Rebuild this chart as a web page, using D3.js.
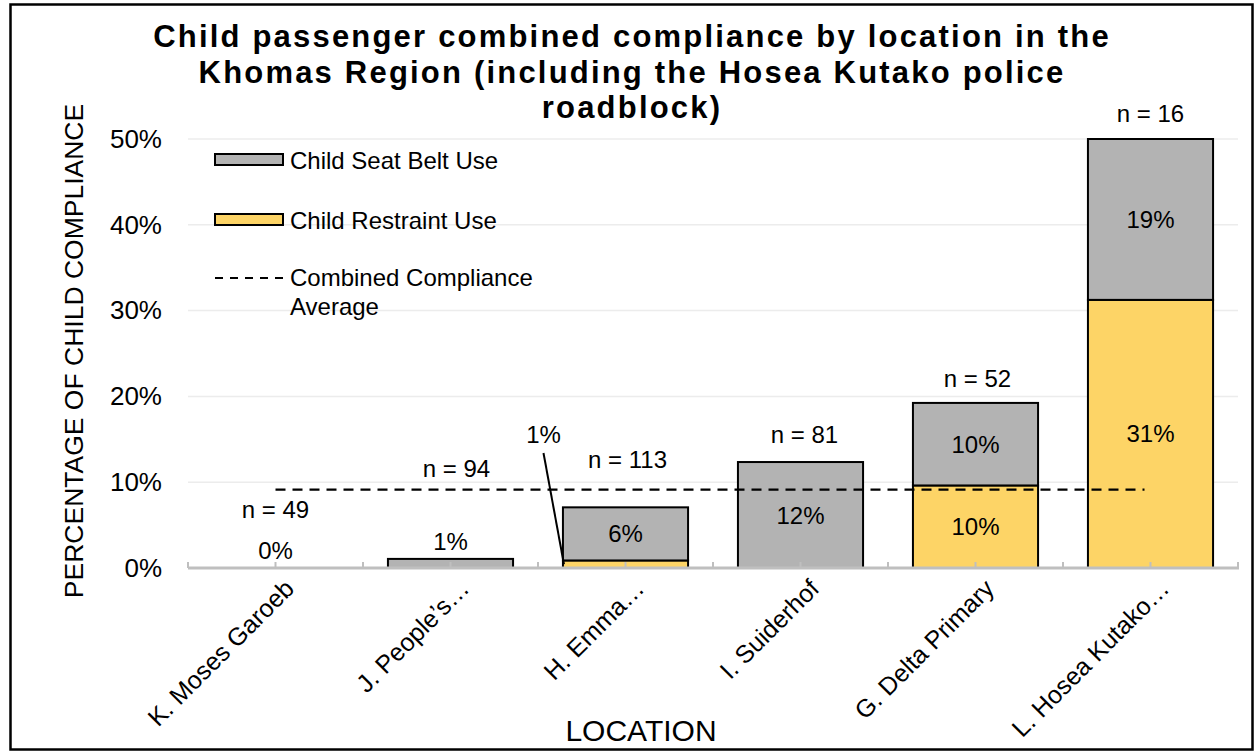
<!DOCTYPE html>
<html>
<head>
<meta charset="utf-8">
<script src="https://cdn.jsdelivr.net/npm/d3@7"></script>
<style>
  html, body { margin: 0; padding: 0; background: #fff; }
  svg { display: block; font-family: "Liberation Sans", Arial, sans-serif; }
</style>
</head>
<body>
<svg id="chart" width="1257" height="752"></svg>
<script>
// Locations surveyed, in plotting order
const categories = ["K. Moses Garoeb", "J. People\u2019s\u2026", "H. Emma\u2026", "I. Suiderhof", "G. Delta Primary", "L. Hosea Kutako\u2026"];
// Number of child passengers observed at each location
const sampleSize = [49, 94, 113, 81, 52, 16];
// Share of children in a child restraint (%)
const restraintUse = [0, 0, 0.88, 0, 9.62, 31.25];
// Share of children wearing a seat belt (%)
const seatBeltUse = [0, 1.06, 6.19, 12.35, 9.62, 18.75];
// Average combined compliance across all locations (%)
const combinedAverage = 9.14;
const yTicks = [0, 10, 20, 30, 40, 50];

const titleLines = [
  "Child passenger combined compliance by location in the",
  "Khomas Region (including the Hosea Kutako police",
  "roadblock)"
];

// Layout
const W = 1257, H = 752;
const plot = { left: 188, right: 1238, top: 139, bottom: 568 };
const colors = { seat: "#b3b3b3", restraint: "#fdd466", grid: "#ececec", axis: "#bfbfbf" };
// vertical lift (px) of each "n = " label above its stack, plus small x nudges
const nLift = [50, 82, 39, 19, 16, 17];
const nNudge = [0, 6, 2, 4, 2, 0];

const svg = d3.select("#chart");

const x = d3.scaleBand().domain(categories)
  .range([plot.left, plot.right]).paddingInner(0.285).paddingOuter(0.1425);
const y = d3.scaleLinear().domain([0, 50]).range([plot.bottom, plot.top]);

// Outer frame
svg.append("rect").attr("x", 10.5).attr("y", 4.5).attr("width", 1242).attr("height", 745)
  .attr("fill", "none").attr("stroke", "#000").attr("stroke-width", 2.5);

// Title
svg.append("text").attr("text-anchor", "middle").attr("font-weight", "bold")
  .attr("font-size", 31).attr("letter-spacing", 2.2).attr("fill", "#000")
  .selectAll("tspan").data(titleLines).join("tspan")
  .attr("x", 632).attr("y", (d, i) => 47 + i * 35.5).text(d => d);

// Gridlines
svg.append("g").selectAll("line").data(yTicks.filter(t => t > 0)).join("line")
  .attr("x1", plot.left).attr("x2", plot.right)
  .attr("y1", d => y(d)).attr("y2", d => y(d))
  .attr("stroke", colors.grid).attr("stroke-width", 1.5);

// Y axis labels
const yAxis = svg.append("g").attr("transform", `translate(${plot.left},0)`)
  .call(d3.axisLeft(y).tickValues(yTicks).tickFormat(d => d + "%").tickSize(0).tickPadding(26));
yAxis.select(".domain").remove();
yAxis.selectAll("text").attr("font-size", 26).attr("fill", "#000")
  .attr("font-family", "'Liberation Sans', Arial, sans-serif");

// Y axis title
svg.append("text").attr("transform", "translate(74,351) rotate(-90)")
  .attr("text-anchor", "middle").attr("dominant-baseline", "central")
  .attr("font-size", 26.5).attr("fill", "#000").text("PERCENTAGE OF CHILD COMPLIANCE");

// Stacked bars
const rows = categories.map((c, i) => ({ c, i, r: restraintUse[i], s: seatBeltUse[i], n: sampleSize[i] }));
const bars = svg.append("g");
rows.forEach(d => {
  const bx = x(d.c), bw = x.bandwidth();
  if (d.r > 0) {
    bars.append("rect").attr("x", bx).attr("width", bw)
      .attr("y", y(d.r)).attr("height", y(0) - y(d.r))
      .attr("fill", colors.restraint).attr("stroke", "#000").attr("stroke-width", 2);
  }
  if (d.s > 0) {
    bars.append("rect").attr("x", bx).attr("width", bw)
      .attr("y", y(d.r + d.s)).attr("height", y(d.r) - y(d.r + d.s))
      .attr("fill", colors.seat).attr("stroke", "#000").attr("stroke-width", 2);
  }
});

// X axis line and tick marks (category edges and centres)
const axisG = svg.append("g");
axisG.append("line").attr("x1", plot.left).attr("x2", plot.right + 1)
  .attr("y1", plot.bottom).attr("y2", plot.bottom)
  .attr("stroke", colors.axis).attr("stroke-width", 3);
const step = x.step();
const tickXs = [];
for (let k = 0; k <= categories.length * 2; k++) tickXs.push(plot.left + k * step / 2);
axisG.selectAll("line.tk").data(tickXs).join("line").attr("class", "tk")
  .attr("x1", d => d).attr("x2", d => d)
  .attr("y1", plot.bottom - 6).attr("y2", plot.bottom)
  .attr("stroke", colors.axis).attr("stroke-width", 2);

// Category labels
const xAxis = svg.append("g").attr("transform", `translate(0,${plot.bottom})`)
  .call(d3.axisBottom(x).tickSize(0).tickPadding(0));
xAxis.select(".domain").remove();
xAxis.selectAll("text")
  .attr("font-size", 25).attr("fill", "#000")
  .attr("font-family", "'Liberation Sans', Arial, sans-serif")
  .attr("text-anchor", "end").attr("dy", "0.35em")
  .attr("transform", "translate(14,16) rotate(-45)");

// X axis title
svg.append("text").attr("x", 641).attr("y", 741).attr("text-anchor", "middle")
  .attr("font-size", 30).attr("fill", "#000").text("LOCATION");

// Combined compliance average
const cx = i => x(categories[i]) + x.bandwidth() / 2;
svg.append("line")
  .attr("x1", cx(0)).attr("x2", cx(categories.length - 1) - 6)
  .attr("y1", y(combinedAverage)).attr("y2", y(combinedAverage))
  .attr("stroke", "#000").attr("stroke-width", 2.2).attr("stroke-dasharray", "10,7");

// Value labels
const fmt = v => Math.round(v) + "%";
const labels = svg.append("g").attr("font-size", 24).attr("fill", "#000").attr("text-anchor", "middle");
rows.forEach(d => {
  const mx = cx(d.i);
  const top = y(d.r + d.s);
  // seat belt segment
  if (y(d.r) - top >= 22) {
    labels.append("text").attr("x", mx).attr("y", (y(d.r) + top) / 2)
      .attr("dominant-baseline", "central").text(fmt(d.s));
  } else {
    labels.append("text").attr("x", mx).attr("y", top - 9).text(fmt(d.s));
  }
  // restraint segment
  if (d.r > 0) {
    if (y(0) - y(d.r) >= 22) {
      labels.append("text").attr("x", mx).attr("y", (y(0) + y(d.r)) / 2)
        .attr("dominant-baseline", "central").text(fmt(d.r));
    } else {
      // thin slice: label pulled out with a leader line
      const lx = mx - 82, ly = 443;
      labels.append("text").attr("x", lx).attr("y", ly).text(fmt(d.r));
      labels.append("line").attr("x1", lx).attr("y1", ly + 10)
        .attr("x2", x(d.c) + 1).attr("y2", y(d.r / 2))
        .attr("stroke", "#000").attr("stroke-width", 2);
    }
  }
  // sample size
  labels.append("text").attr("x", mx + nNudge[d.i]).attr("y", top - nLift[d.i]).text("n = " + d.n);
});

// Legend
const lg = svg.append("g").attr("font-size", 24).attr("fill", "#000");
lg.append("rect").attr("x", 215).attr("y", 154).attr("width", 68).attr("height", 11)
  .attr("fill", colors.seat).attr("stroke", "#000").attr("stroke-width", 2);
lg.append("text").attr("x", 290).attr("y", 160).attr("dominant-baseline", "central").text("Child Seat Belt Use");
lg.append("rect").attr("x", 215).attr("y", 214).attr("width", 68).attr("height", 11)
  .attr("fill", colors.restraint).attr("stroke", "#000").attr("stroke-width", 2);
lg.append("text").attr("x", 290).attr("y", 220).attr("dominant-baseline", "central").text("Child Restraint Use");
lg.append("line").attr("x1", 215).attr("x2", 283).attr("y1", 278).attr("y2", 278)
  .attr("stroke", "#000").attr("stroke-width", 2.2).attr("stroke-dasharray", "8,7");
lg.append("text").attr("x", 290).attr("y", 277).attr("dominant-baseline", "central").text("Combined Compliance");
lg.append("text").attr("x", 290).attr("y", 306).attr("dominant-baseline", "central").text("Average");
</script>
</body>
</html>
